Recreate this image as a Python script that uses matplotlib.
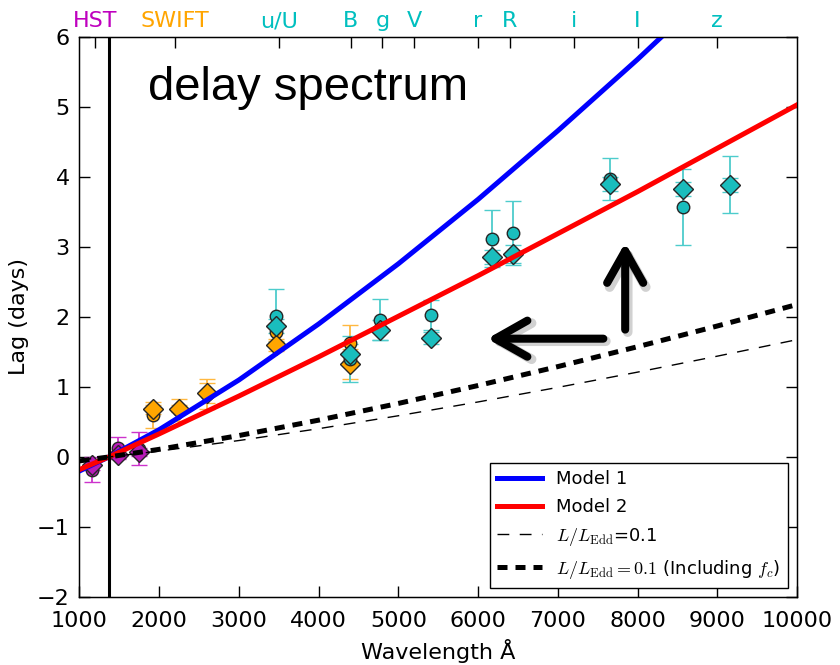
import matplotlib
matplotlib.use("Agg")
import matplotlib.pyplot as plt
from matplotlib.patches import FancyArrowPatch
from matplotlib.transforms import offset_copy

plt.rcParams['font.family'] = ['DejaVu Sans']
plt.rcParams['mathtext.fontset'] = 'cm'

# ---- band markers on the top axis ----
band_names = ['HST', 'SWIFT', 'u/U', 'B', 'g', 'V', 'r', 'R', 'i', 'I', 'z']
band_wave = [1200, 2200, 3500, 4400, 4800, 5200, 6000, 6400, 7200, 8000, 9000]
band_colors = ['m', 'orange'] + ['c'] * 9

# ---- measured lags (days) ----
# HST
hst_wave = [1158, 1479, 1746]
hst_lag_ccf = [-0.18, 0.13, 0.12]
hst_err_ccf = [0.18, 0.16, 0.23]
hst_lag_jav = [-0.12, 0.03, 0.07]
hst_err_jav = [0.06, 0.05, 0.06]

# Swift
swift_wave = [1928, 2246, 2600, 3465, 4392]
swift_lag_ccf = [0.60, 0.67, 0.90, 1.78, 1.63]
swift_err_ccf = [0.18, 0.16, 0.21, 0.12, 0.26]
swift_lag_jav = [0.68, 0.69, 0.91, 1.60, 1.33]
swift_err_jav = [0.06, 0.05, 0.14, 0.08, 0.21]

# ground-based optical
opt_wave = [3465, 4392, 4770, 5405, 6180, 6440, 7656, 8568, 9160]
opt_lag_ccf = [2.02, 1.40, 1.96, 2.03, 3.12, 3.20, 3.97, 3.57, 3.89]
opt_err_ccf = [0.38, 0.33, 0.29, 0.21, 0.41, 0.46, 0.30, 0.54, 0.41]
opt_lag_jav = [1.87, 1.47, 1.81, 1.70, 2.85, 2.90, 3.90, 3.83, 3.89]
opt_err_jav = [0.10, 0.15, 0.14, 0.08, 0.10, 0.13, 0.10, 0.10, 0.10]

# ---- model lag curves ----
model_wave = [1000, 1367, 2000, 3000, 4000, 5000, 6000, 7000, 8000, 9000, 10000]
model1_lag = [-0.20, 0.0, 0.39, 1.10, 1.90, 2.76, 3.68, 4.66, 5.68, 6.75, 7.85]
model2_lag = [-0.18, 0.0, 0.33, 0.87, 1.43, 2.01, 2.59, 3.19, 3.79, 4.41, 5.03]
edd_lag = [-0.043, 0.0, 0.084, 0.235, 0.404, 0.589, 0.786, 0.994, 1.212, 1.440, 1.676]
edd_fc_lag = [-0.056, 0.0, 0.109, 0.306, 0.526, 0.765, 1.021, 1.291, 1.575, 1.871, 2.178]

ref_wave = 1367

x_ticks = [1000, 2000, 3000, 4000, 5000, 6000, 7000, 8000, 9000, 10000]
y_ticks = [-2, -1, 0, 1, 2, 3, 4, 5, 6]

fig = plt.figure(figsize=(8.4, 6.65), dpi=100)
ax = fig.add_axes([0.0946, 0.1023, 0.8542, 0.8421])


def plot_set(wave, lag_ccf, err_ccf, lag_jav, err_jav, color, ecolor):
    ax.errorbar(wave, lag_ccf, yerr=err_ccf, fmt='o', ms=9, mfc=color,
                mec=(0.15, 0.15, 0.15), mew=1.0, ecolor=ecolor, elinewidth=1.3,
                capsize=6, capthick=1.3, zorder=3)
    ax.errorbar(wave, lag_jav, yerr=err_jav, fmt='D', ms=10, mfc=color,
                mec=(0.15, 0.15, 0.15), mew=1.0, ecolor=ecolor, elinewidth=1.3,
                capsize=6, capthick=1.3, zorder=3)


plot_set(hst_wave, hst_lag_ccf, hst_err_ccf, hst_lag_jav, hst_err_jav,
         (0.72, 0.1, 0.72), (0.8, 0.2, 0.8))
plot_set(swift_wave, swift_lag_ccf, swift_err_ccf, swift_lag_jav, swift_err_jav,
         (1.0, 0.65, 0.0), (1.0, 0.72, 0.25))
plot_set(opt_wave, opt_lag_ccf, opt_err_ccf, opt_lag_jav, opt_err_jav,
         (0.1, 0.74, 0.74), (0.3, 0.8, 0.8))

ax.plot(model_wave, model1_lag, color='blue', lw=3.6, label='Model 1', zorder=4)
ax.plot(model_wave, model2_lag, color='red', lw=3.6, label='Model 2', zorder=4)
ax.plot(model_wave, edd_lag, color='black', lw=1.0, dashes=(8.5, 7.5),
        label=r'$L/L_{\rm Edd}$=0.1', zorder=4)
ax.plot(model_wave, edd_fc_lag, color='black', lw=3.6, dashes=(2.0, 1.6),
        label=r'$L/L_{\rm Edd}=0.1$ (Including $f_c$)', zorder=4)

ax.axvline(ref_wave, color='black', lw=2.2, zorder=5)

ax.set_xlim(1000, 10000)
ax.set_ylim(-2, 6)
ax.set_xticks(x_ticks)
ax.set_yticks(y_ticks)
ax.tick_params(direction='in', length=8, width=1, labelsize=16,
               top=False, right=True)
ax.tick_params(axis='x', pad=10)
ax.tick_params(axis='y', pad=7)
for s in ax.spines.values():
    s.set_linewidth(1.0)

ax.set_xlabel('Wavelength Å', fontsize=16, labelpad=6)
ax.set_ylabel('Lag (days)', fontsize=16, labelpad=6)

# band labels along the top
ax2 = ax.twiny()
ax2.set_xlim(ax.get_xlim())
ax2.set_xticks(band_wave)
ax2.set_xticklabels(band_names)
ax2.tick_params(direction='in', length=8, width=1, labelsize=16, pad=4)
for lab, tick, col in zip(ax2.get_xticklabels(), ax2.xaxis.get_major_ticks(), band_colors):
    lab.set_color(col)
    tick.tick2line.set_color(col)

ax.text(0.0955, 0.8875, 'delay spectrum', transform=ax.transAxes,
        fontsize=34, family='Liberation Sans', va='baseline', ha='left')

# arrows pointing from the thin-disc prediction towards the data,
# each with a soft offset shadow underneath
shadow_tr = offset_copy(ax.transData, fig=fig, x=2.5, y=-2.5, units='dots')
arrow_style = '->,head_length=2.3,head_width=1.3'
for start, end in [((7845, 1.78), (7845, 3.10)), ((7606, 1.69), (6080, 1.69))]:
    shd = FancyArrowPatch(start, end, arrowstyle=arrow_style, mutation_scale=10,
                          lw=7.0, color=(0, 0, 0, 0.18), capstyle='round',
                          joinstyle='round', transform=shadow_tr, zorder=5.5)
    ax.add_patch(shd)
    arr = FancyArrowPatch(start, end, arrowstyle=arrow_style, mutation_scale=10,
                          lw=5.8, color='black', capstyle='round',
                          joinstyle='round', zorder=6)
    ax.add_patch(arr)

leg = ax.legend(loc='lower right', fontsize=13, handlelength=2.5,
                fancybox=False, framealpha=1, edgecolor='black',
                borderaxespad=0.5, labelspacing=0.55)
leg.get_frame().set_linewidth(1.0)
leg.set_zorder(7)

fig.savefig('out.png', dpi=100)
